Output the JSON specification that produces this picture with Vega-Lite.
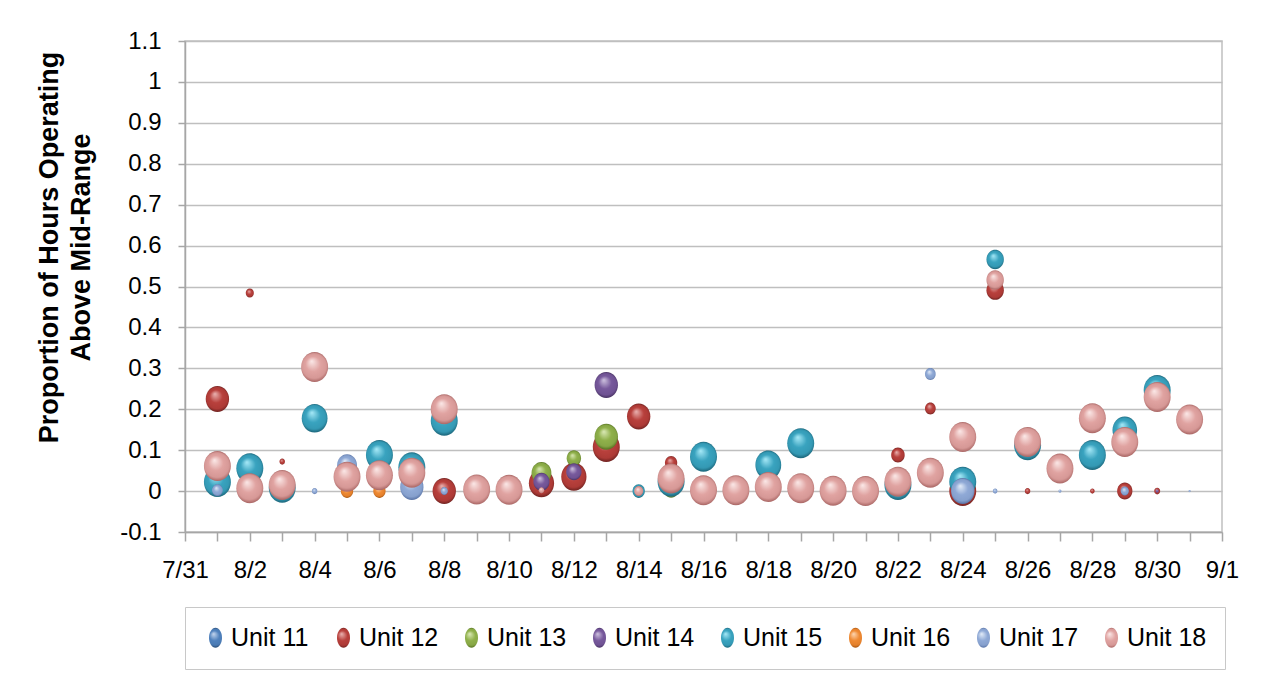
{
  "$schema": "https://vega.github.io/schema/vega-lite/v6.json",
  "autosize": "none",
  "width": 1037,
  "height": 491,
  "padding": {"left": 185, "top": 41, "right": 53, "bottom": 142},
  "background": "white",
  "config": {
    "font": "Liberation Sans",
    "view": {"stroke": "#c0c0c0", "strokeWidth": 1.5}
  },
  "data": {
    "values": [
      {"date": "2010-08-01", "unit": "Unit 12", "prop": 0.225, "hours": 18},
      {"date": "2010-08-02", "unit": "Unit 12", "prop": 0.484, "hours": 2.2},
      {"date": "2010-08-03", "unit": "Unit 12", "prop": 0.072, "hours": 1},
      {"date": "2010-08-08", "unit": "Unit 12", "prop": 0.0, "hours": 18},
      {"date": "2010-08-11", "unit": "Unit 12", "prop": 0.019, "hours": 21},
      {"date": "2010-08-12", "unit": "Unit 12", "prop": 0.035, "hours": 21},
      {"date": "2010-08-13", "unit": "Unit 12", "prop": 0.108, "hours": 24},
      {"date": "2010-08-14", "unit": "Unit 12", "prop": 0.182, "hours": 18},
      {"date": "2010-08-15", "unit": "Unit 12", "prop": 0.069, "hours": 5},
      {"date": "2010-08-22", "unit": "Unit 12", "prop": 0.088, "hours": 6},
      {"date": "2010-08-23", "unit": "Unit 12", "prop": 0.202, "hours": 3.8},
      {"date": "2010-08-24", "unit": "Unit 12", "prop": 0.0, "hours": 24},
      {"date": "2010-08-25", "unit": "Unit 12", "prop": 0.491, "hours": 10},
      {"date": "2010-08-26", "unit": "Unit 12", "prop": 0.0, "hours": 1},
      {"date": "2010-08-28", "unit": "Unit 12", "prop": 0.0, "hours": 0.7},
      {"date": "2010-08-29", "unit": "Unit 12", "prop": 0.0, "hours": 7.7},
      {"date": "2010-08-30", "unit": "Unit 12", "prop": 0.0, "hours": 1.2},
      {"date": "2010-08-11", "unit": "Unit 13", "prop": 0.044, "hours": 13},
      {"date": "2010-08-12", "unit": "Unit 13", "prop": 0.08, "hours": 6.8},
      {"date": "2010-08-13", "unit": "Unit 13", "prop": 0.133, "hours": 18},
      {"date": "2010-08-15", "unit": "Unit 13", "prop": 0.005, "hours": 8},
      {"date": "2010-08-11", "unit": "Unit 14", "prop": 0.023, "hours": 8.6},
      {"date": "2010-08-12", "unit": "Unit 14", "prop": 0.047, "hours": 7.7},
      {"date": "2010-08-13", "unit": "Unit 14", "prop": 0.259, "hours": 18},
      {"date": "2010-08-30", "unit": "Unit 14", "prop": 0.0, "hours": 0.3},
      {"date": "2010-08-01", "unit": "Unit 15", "prop": 0.022, "hours": 24},
      {"date": "2010-08-02", "unit": "Unit 15", "prop": 0.056, "hours": 24},
      {"date": "2010-08-03", "unit": "Unit 15", "prop": 0.008, "hours": 24},
      {"date": "2010-08-04", "unit": "Unit 15", "prop": 0.178, "hours": 22},
      {"date": "2010-08-06", "unit": "Unit 15", "prop": 0.088, "hours": 24},
      {"date": "2010-08-07", "unit": "Unit 15", "prop": 0.058, "hours": 24},
      {"date": "2010-08-08", "unit": "Unit 15", "prop": 0.172, "hours": 24},
      {"date": "2010-08-14", "unit": "Unit 15", "prop": 0.0, "hours": 5},
      {"date": "2010-08-15", "unit": "Unit 15", "prop": 0.023, "hours": 24},
      {"date": "2010-08-16", "unit": "Unit 15", "prop": 0.084, "hours": 24},
      {"date": "2010-08-18", "unit": "Unit 15", "prop": 0.064, "hours": 22},
      {"date": "2010-08-19", "unit": "Unit 15", "prop": 0.117, "hours": 24},
      {"date": "2010-08-22", "unit": "Unit 15", "prop": 0.015, "hours": 24},
      {"date": "2010-08-24", "unit": "Unit 15", "prop": 0.023, "hours": 24},
      {"date": "2010-08-25", "unit": "Unit 15", "prop": 0.566, "hours": 10},
      {"date": "2010-08-26", "unit": "Unit 15", "prop": 0.112, "hours": 24},
      {"date": "2010-08-28", "unit": "Unit 15", "prop": 0.088, "hours": 24},
      {"date": "2010-08-29", "unit": "Unit 15", "prop": 0.149, "hours": 20},
      {"date": "2010-08-30", "unit": "Unit 15", "prop": 0.247, "hours": 24},
      {"date": "2010-08-05", "unit": "Unit 16", "prop": 0.0, "hours": 5},
      {"date": "2010-08-06", "unit": "Unit 16", "prop": 0.0, "hours": 5},
      {"date": "2010-08-01", "unit": "Unit 17", "prop": 0.002, "hours": 3.8},
      {"date": "2010-08-04", "unit": "Unit 17", "prop": 0.0, "hours": 1},
      {"date": "2010-08-05", "unit": "Unit 17", "prop": 0.063, "hours": 13},
      {"date": "2010-08-07", "unit": "Unit 17", "prop": 0.01, "hours": 18},
      {"date": "2010-08-08", "unit": "Unit 17", "prop": 0.0, "hours": 1.7},
      {"date": "2010-08-23", "unit": "Unit 17", "prop": 0.286, "hours": 3.8},
      {"date": "2010-08-24", "unit": "Unit 17", "prop": 0.0, "hours": 18},
      {"date": "2010-08-25", "unit": "Unit 17", "prop": 0.0, "hours": 0.7},
      {"date": "2010-08-27", "unit": "Unit 17", "prop": 0.0, "hours": 0.3},
      {"date": "2010-08-29", "unit": "Unit 17", "prop": 0.0, "hours": 2.2},
      {"date": "2010-08-31", "unit": "Unit 17", "prop": 0.0, "hours": 0.15},
      {"date": "2010-08-01", "unit": "Unit 18", "prop": 0.061, "hours": 24},
      {"date": "2010-08-02", "unit": "Unit 18", "prop": 0.007, "hours": 24},
      {"date": "2010-08-03", "unit": "Unit 18", "prop": 0.015, "hours": 24},
      {"date": "2010-08-04", "unit": "Unit 18", "prop": 0.303, "hours": 24},
      {"date": "2010-08-05", "unit": "Unit 18", "prop": 0.035, "hours": 24},
      {"date": "2010-08-06", "unit": "Unit 18", "prop": 0.039, "hours": 24},
      {"date": "2010-08-07", "unit": "Unit 18", "prop": 0.045, "hours": 24},
      {"date": "2010-08-08", "unit": "Unit 18", "prop": 0.2, "hours": 24},
      {"date": "2010-08-09", "unit": "Unit 18", "prop": 0.004, "hours": 24},
      {"date": "2010-08-10", "unit": "Unit 18", "prop": 0.003, "hours": 24},
      {"date": "2010-08-11", "unit": "Unit 18", "prop": 0.002, "hours": 1},
      {"date": "2010-08-14", "unit": "Unit 18", "prop": 0.0, "hours": 2.7},
      {"date": "2010-08-15", "unit": "Unit 18", "prop": 0.031, "hours": 24},
      {"date": "2010-08-16", "unit": "Unit 18", "prop": 0.002, "hours": 24},
      {"date": "2010-08-17", "unit": "Unit 18", "prop": 0.002, "hours": 24},
      {"date": "2010-08-18", "unit": "Unit 18", "prop": 0.01, "hours": 24},
      {"date": "2010-08-19", "unit": "Unit 18", "prop": 0.007, "hours": 24},
      {"date": "2010-08-20", "unit": "Unit 18", "prop": 0.001, "hours": 24},
      {"date": "2010-08-21", "unit": "Unit 18", "prop": 0.0, "hours": 24},
      {"date": "2010-08-22", "unit": "Unit 18", "prop": 0.023, "hours": 24},
      {"date": "2010-08-23", "unit": "Unit 18", "prop": 0.045, "hours": 24},
      {"date": "2010-08-24", "unit": "Unit 18", "prop": 0.132, "hours": 24},
      {"date": "2010-08-25", "unit": "Unit 18", "prop": 0.516, "hours": 10},
      {"date": "2010-08-26", "unit": "Unit 18", "prop": 0.12, "hours": 24},
      {"date": "2010-08-27", "unit": "Unit 18", "prop": 0.055, "hours": 24},
      {"date": "2010-08-28", "unit": "Unit 18", "prop": 0.178, "hours": 24},
      {"date": "2010-08-29", "unit": "Unit 18", "prop": 0.12, "hours": 24},
      {"date": "2010-08-30", "unit": "Unit 18", "prop": 0.23, "hours": 24},
      {"date": "2010-08-31", "unit": "Unit 18", "prop": 0.175, "hours": 24}
    ]
  },
  "mark": {
    "type": "point",
    "filled": true,
    "opacity": 1,
    "strokeWidth": 0,
    "shape": "M-0.9,0A0.9,1,0,1,0,0.9,0A0.9,1,0,1,0,-0.9,0Z"
  },
  "encoding": {
    "x": {
      "field": "date",
      "type": "temporal",
      "scale": {"type": "utc", "domain": [1280534400000, 1283299200000]},
      "axis": {
        "title": null,
        "grid": false,
        "values": [1280534400000, 1280620800000, 1280707200000, 1280793600000, 1280880000000, 1280966400000, 1281052800000, 1281139200000, 1281225600000, 1281312000000, 1281398400000, 1281484800000, 1281571200000, 1281657600000, 1281744000000, 1281830400000, 1281916800000, 1282003200000, 1282089600000, 1282176000000, 1282262400000, 1282348800000, 1282435200000, 1282521600000, 1282608000000, 1282694400000, 1282780800000, 1282867200000, 1282953600000, 1283040000000, 1283126400000, 1283212800000, 1283299200000],
        "labelExpr": "round((datum.value - 1280534400000) / 86400000) % 2 === 0 ? utcFormat(datum.value, '%-m/%-d') : ''",
        "labelOverlap": false,
        "labelFlush": false,
        "labelBound": false,
        "labelFontSize": 24,
        "labelColor": "#000000",
        "labelPadding": 17,
        "tickSize": 9,
        "tickWidth": 1.5,
        "tickColor": "#a6a6a6",
        "domainColor": "#a6a6a6",
        "domainWidth": 1.5
      }
    },
    "y": {
      "field": "prop",
      "type": "quantitative",
      "scale": {"domain": [-0.1, 1.1], "nice": false, "zero": false},
      "axis": {
        "title": ["Proportion of Hours Operating", "Above Mid-Range"],
        "titleFontSize": 27,
        "titleFontWeight": "bold",
        "titleColor": "#000000",
        "titleLineHeight": 32,
        "titleX": -122,
        "titleY": 206,
        "values": [-0.1, 0, 0.1, 0.2, 0.3, 0.4, 0.5, 0.6, 0.7, 0.8, 0.9, 1, 1.1],
        "labelExpr": "datum.value < 0 ? '-' + format(-datum.value, '.1~f') : format(datum.value, '.1~f')",
        "labelOverlap": false,
        "labelFlush": false,
        "labelBound": false,
        "labelFontSize": 24,
        "labelColor": "#000000",
        "labelPadding": 17,
        "grid": true,
        "gridColor": "#bfbfbf",
        "gridWidth": 1.5,
        "tickSize": 7,
        "tickWidth": 1.5,
        "tickColor": "#a6a6a6",
        "domainColor": "#a6a6a6",
        "domainWidth": 1.5
      }
    },
    "size": {
      "field": "hours",
      "type": "quantitative",
      "scale": {"domain": [0, 24], "range": [0, 900]},
      "legend": null
    },
    "color": {
      "field": "unit",
      "type": "nominal",
      "scale": {
        "domain": ["Unit 11", "Unit 12", "Unit 13", "Unit 14", "Unit 15", "Unit 16", "Unit 17", "Unit 18"],
        "range": [
          {"expr": "{gradient:'radial',x1:0.4,y1:0.3,r1:0,x2:0.5,y2:0.5,r2:0.5,stops:[{offset:0,color:'#c5d6ee'},{offset:0.5,color:'#4f81bd'},{offset:0.82,color:'#4a7ab3'},{offset:1,color:'#25466e'}]}"},
          {"expr": "{gradient:'radial',x1:0.4,y1:0.3,r1:0,x2:0.5,y2:0.5,r2:0.5,stops:[{offset:0,color:'#eab4b2'},{offset:0.5,color:'#b8403c'},{offset:0.82,color:'#ad3a36'},{offset:1,color:'#6e2220'}]}"},
          {"expr": "{gradient:'radial',x1:0.4,y1:0.3,r1:0,x2:0.5,y2:0.5,r2:0.5,stops:[{offset:0,color:'#dceab8'},{offset:0.5,color:'#8fb04a'},{offset:0.82,color:'#86a645'},{offset:1,color:'#55701f'}]}"},
          {"expr": "{gradient:'radial',x1:0.4,y1:0.3,r1:0,x2:0.5,y2:0.5,r2:0.5,stops:[{offset:0,color:'#cfc3e0'},{offset:0.5,color:'#77599c'},{offset:0.82,color:'#6f5293'},{offset:1,color:'#45305f'}]}"},
          {"expr": "{gradient:'radial',x1:0.4,y1:0.3,r1:0,x2:0.5,y2:0.5,r2:0.5,stops:[{offset:0,color:'#a8eaf8'},{offset:0.5,color:'#39a3bf'},{offset:0.82,color:'#3499b4'},{offset:1,color:'#1b6377'}]}"},
          {"expr": "{gradient:'radial',x1:0.4,y1:0.3,r1:0,x2:0.5,y2:0.5,r2:0.5,stops:[{offset:0,color:'#fdd7b3'},{offset:0.5,color:'#ef8a33'},{offset:0.82,color:'#e3802c'},{offset:1,color:'#a2510b'}]}"},
          {"expr": "{gradient:'radial',x1:0.4,y1:0.3,r1:0,x2:0.5,y2:0.5,r2:0.5,stops:[{offset:0,color:'#e3ecf8'},{offset:0.5,color:'#8fa9d6'},{offset:0.82,color:'#86a0cd'},{offset:1,color:'#5670a3'}]}"},
          {"expr": "{gradient:'radial',x1:0.4,y1:0.3,r1:0,x2:0.5,y2:0.5,r2:0.5,stops:[{offset:0,color:'#fbe9e8'},{offset:0.5,color:'#e0a3a1'},{offset:0.82,color:'#d69896'},{offset:1,color:'#a86563'}]}"}
        ]
      },
      "legend": {
        "title": null,
        "orient": "none",
        "legendX": 0,
        "legendY": 566,
        "direction": "horizontal",
        "columns": 8,
        "gridAlign": "all",
        "columnPadding": 20,
        "padding": 18,
        "strokeColor": "#c8c8c8",
        "fillColor": "white",
        "labelFontSize": 25,
        "labelColor": "#000000",
        "labelOffset": 3,
        "labelLimit": 200,
        "symbolSize": 400,
        "symbolStrokeWidth": 0,
        "symbolType": "M-0.65,0A0.65,1,0,1,0,0.65,0A0.65,1,0,1,0,-0.65,0Z"
      }
    }
  }
}
